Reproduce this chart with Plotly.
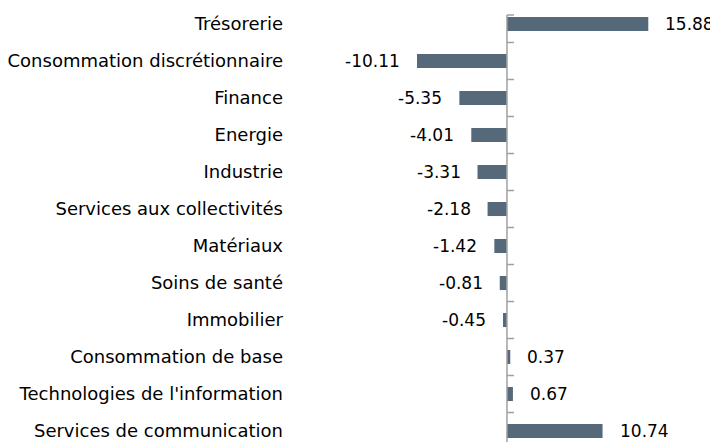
import plotly.graph_objects as go

categories = ["Trésorerie", "Consommation discrétionnaire", "Finance", "Energie",
              "Industrie", "Services aux collectivités", "Matériaux", "Soins de santé",
              "Immobilier", "Consommation de base", "Technologies de l'information",
              "Services de communication"]
values = [15.88, -10.11, -5.35, -4.01, -3.31, -2.18, -1.42, -0.81, -0.45, 0.37, 0.67, 10.74]
labels = ["15.88", "-10.11", "-5.35", "-4.01", "-3.31", "-2.18", "-1.42", "-0.81", "-0.45",
          "0.37", "0.67", "10.74"]

BAR = "#56697b"
AXIS = "#a0a0a0"
FONT = "DejaVu Sans"

fig = go.Figure()
fig.add_trace(go.Bar(
    y=categories, x=values, orientation="h",
    marker=dict(color=BAR, line=dict(width=0)),
    width=0.38, hoverinfo="skip",
))

annotations = []
for c, v, t in zip(categories, values, labels):
    annotations.append(dict(
        x=v, y=c, xref="x", yref="y", text=t, showarrow=False,
        xanchor="left" if v >= 0 else "right",
        xshift=15 if v >= 0 else -15,
        font=dict(family=FONT, size=17, color="#000000"),
    ))

n = len(categories)
shapes = [dict(type="line", xref="x", yref="y", x0=0, x1=0, y0=-0.243, y1=11.3,
               line=dict(color=AXIS, width=1.5))]
tick_positions = [-0.243] + [i + 0.5 for i in range(n - 1)]
for tp in tick_positions:
    shapes.append(dict(type="line", xref="x", yref="y", xsizemode="pixel", xanchor=0,
                       x0=0, x1=7, y0=tp, y1=tp, line=dict(color=AXIS, width=1.5)))

fig.update_layout(
    width=718, height=443,
    margin=dict(l=282, r=26, t=0, b=0, autoexpand=False),
    paper_bgcolor="white", plot_bgcolor="white",
    showlegend=False,
    font=dict(family=FONT, size=18, color="#000000"),
    xaxis=dict(range=[-24.38, 21.69], showgrid=False, zeroline=False,
               showticklabels=False, showline=False, ticks="", automargin=False),
    yaxis=dict(type="category", categoryorder="array", categoryarray=categories,
               range=[11.54, -0.4324], showgrid=False, zeroline=False, showline=False,
               ticks="", ticklabelstandoff=6, automargin=False,
               tickfont=dict(family=FONT, size=18, color="#000000")),
    annotations=annotations,
    shapes=shapes,
)

fig.write_html("out.html")
